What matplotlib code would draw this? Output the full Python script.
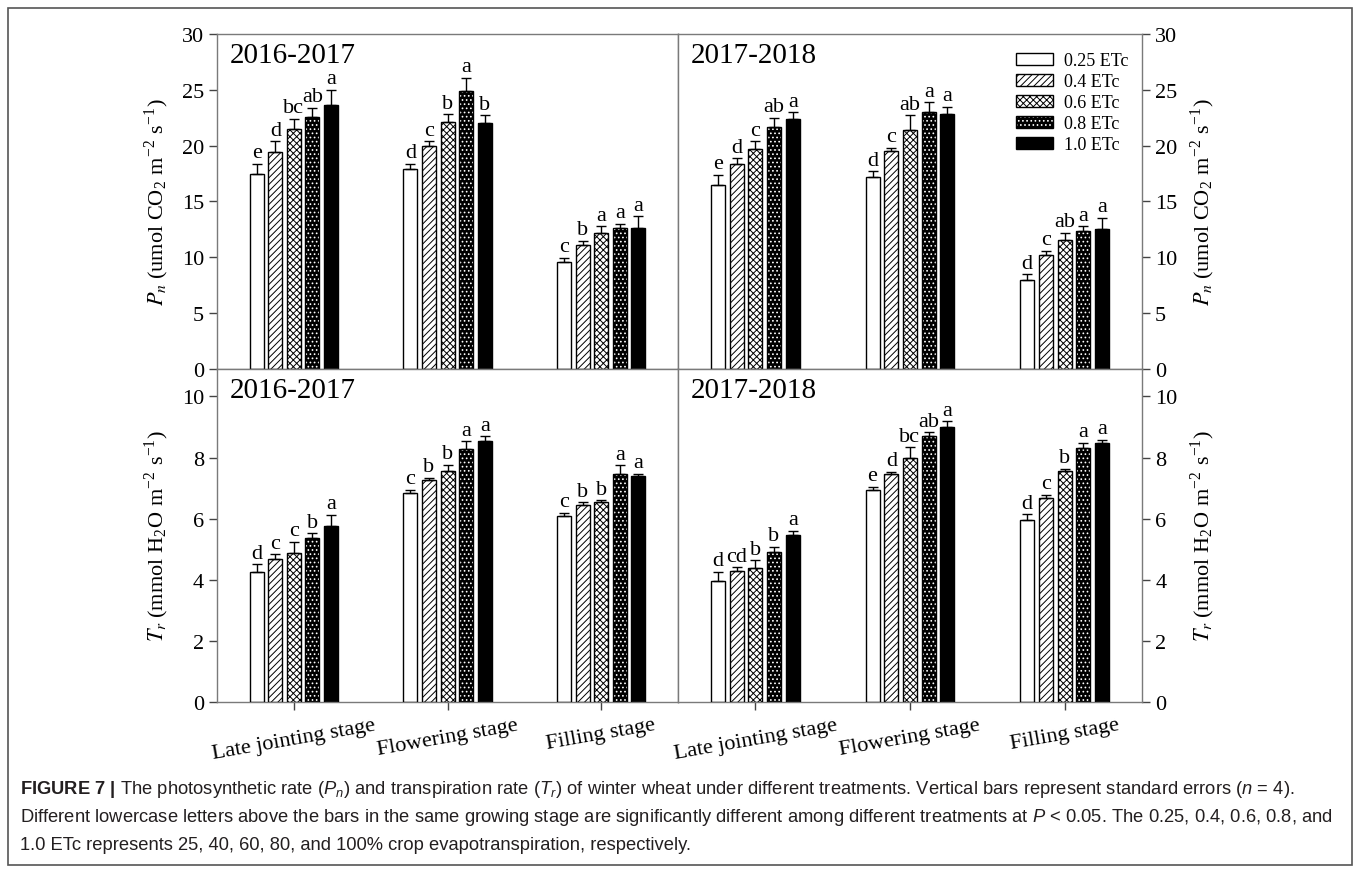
import numpy as np
import matplotlib
matplotlib.use('Agg')
import matplotlib.pyplot as plt
from matplotlib.patches import Patch, Rectangle

plt.rcParams['font.family'] = ['Liberation Serif', 'DejaVu Serif']
plt.rcParams['mathtext.fontset'] = 'custom'
plt.rcParams['mathtext.rm'] = 'Liberation Sans'
plt.rcParams['mathtext.it'] = 'Liberation Sans:italic'
plt.rcParams['mathtext.bf'] = 'Liberation Sans:bold'
plt.rcParams['hatch.linewidth'] = 0.7

# stages and treatments
stages = ['Late jointing stage', 'Flowering stage', 'Filling stage']
treatments = ['0.25 ETc', '0.4 ETc', '0.6 ETc', '0.8 ETc', '1.0 ETc']

# Pn, 2016-2017 (rows = stages, cols = treatments)
pn_1617 = [[17.5, 19.4, 21.5, 22.6, 23.6],
           [17.9, 20.0, 22.1, 24.9, 22.0],
           [9.55, 11.1, 12.2, 12.6, 12.6]]
pn_1617_se = [[0.9, 1.0, 0.9, 0.8, 1.4],
              [0.5, 0.4, 0.7, 1.2, 0.7],
              [0.42, 0.4, 0.6, 0.4, 1.1]]
pn_1617_sig = [['e', 'd', 'bc', 'ab', 'a'],
               ['d', 'c', 'b', 'a', 'b'],
               ['c', 'b', 'a', 'a', 'a']]

# Pn, 2017-2018
pn_1718 = [[16.5, 18.4, 19.7, 21.7, 22.4],
           [17.2, 19.5, 21.4, 23.0, 22.8],
           [8.0, 10.2, 11.55, 12.4, 12.5]]
pn_1718_se = [[0.9, 0.5, 0.7, 0.8, 0.6],
              [0.5, 0.3, 1.3, 0.9, 0.7],
              [0.5, 0.4, 0.65, 0.4, 1.05]]
pn_1718_sig = [['e', 'd', 'c', 'ab', 'a'],
               ['d', 'c', 'ab', 'a', 'a'],
               ['d', 'c', 'ab', 'a', 'a']]

# Tr, 2016-2017
tr_1617 = [[4.25, 4.69, 4.88, 5.36, 5.76],
           [6.85, 7.28, 7.55, 8.28, 8.53],
           [6.07, 6.46, 6.55, 7.47, 7.38]]
tr_1617_se = [[0.25, 0.15, 0.36, 0.16, 0.37],
              [0.1, 0.06, 0.22, 0.25, 0.16],
              [0.12, 0.07, 0.06, 0.27, 0.09]]
tr_1617_sig = [['d', 'c', 'c', 'b', 'a'],
               ['c', 'b', 'b', 'a', 'a'],
               ['c', 'b', 'b', 'a', 'a']]

# Tr, 2017-2018
tr_1718 = [[3.96, 4.27, 4.39, 4.9, 5.45],
           [6.94, 7.47, 7.98, 8.7, 9.01],
           [5.97, 6.68, 7.57, 8.32, 8.49]]
tr_1718_se = [[0.3, 0.15, 0.24, 0.18, 0.15],
              [0.11, 0.07, 0.35, 0.13, 0.18],
              [0.18, 0.1, 0.06, 0.17, 0.1]]
tr_1718_sig = [['d', 'cd', 'b', 'b', 'a'],
               ['e', 'd', 'bc', 'ab', 'a'],
               ['d', 'c', 'b', 'a', 'a']]

# bar fill styles per treatment: (face, hatch, hatch colour)
styles = [('white', None, 'black'),
          ('white', '/////', 'black'),
          ('white', 'xxxxx', 'black'),
          ('black', '....', 'white'),
          ('black', None, 'black')]

spine_col = '#7a7a7a'
width = 0.091
step = 0.121
x = np.arange(len(stages))


def draw_bars(ax, means, se, sig):
    means = np.array(means)
    se = np.array(se)
    for j, (face, hatch, hcol) in enumerate(styles):
        pos = x + (j - 2) * step
        vals = means[:, j]
        # hatch colour follows edgecolor, so fill and outline are separate bars
        ax.bar(pos, vals, width, color=face, edgecolor=hcol, hatch=hatch,
               linewidth=0, zorder=2)
        ax.bar(pos, vals, width, fill=False, edgecolor='black', linewidth=1.0, zorder=3)
        ax.errorbar(pos, vals, yerr=[np.zeros(3), se[:, j]], fmt='none',
                    ecolor='black', elinewidth=1.0, capsize=3.5, capthick=1.0, zorder=4)
        for k in range(3):
            ax.annotate(sig[k][j], (pos[k], vals[k] + se[k, j]), xytext=(0, 1),
                        textcoords='offset points', ha='center', va='bottom',
                        fontsize=16, zorder=5)


def style_axis(ax, side):
    ax.set_xlim(-0.5, 2.5)
    ax.set_xticks(x)
    for s in ax.spines.values():
        s.set_color(spine_col)
        s.set_linewidth(1.0)
    ax.tick_params(axis='both', direction='out', length=6, width=1.0,
                   color='#444444', labelsize=16)
    if side == 'right':
        ax.yaxis.tick_right()
        ax.yaxis.set_label_position('right')
    else:
        ax.yaxis.tick_left()


fig = plt.figure(figsize=(13.6, 8.7), dpi=100)

pn_label = r'$\mathregular{\mathit{P}_{\mathit{n}}}$ (umol CO$_\mathregular{2}$ m$^\mathregular{-2}$ s$^\mathregular{-1}$)'
tr_label = r'$\mathregular{\mathit{T}_{\mathit{r}}}$ (mmol H$_\mathregular{2}$O m$^\mathregular{-2}$ s$^\mathregular{-1}$)'

panels = [
    ([0.1596, 0.5747, 0.3390, 0.3851], pn_1617, pn_1617_se, pn_1617_sig, '2016-2017', 'left', 'pn'),
    ([0.4985, 0.5747, 0.3412, 0.3851], pn_1718, pn_1718_se, pn_1718_sig, '2017-2018', 'right', 'pn'),
    ([0.1596, 0.1920, 0.3390, 0.3828], tr_1617, tr_1617_se, tr_1617_sig, '2016-2017', 'left', 'tr'),
    ([0.4985, 0.1920, 0.3412, 0.3828], tr_1718, tr_1718_se, tr_1718_sig, '2017-2018', 'right', 'tr'),
]

legend_ax = None
for rect, m, e, sg, year, side, var in panels:
    ax = fig.add_axes(rect)
    draw_bars(ax, m, e, sg)
    style_axis(ax, side)
    if var == 'pn':
        ax.set_ylim(0, 30)
        ax.set_yticks(np.arange(0, 31, 5))
        ax.set_xticklabels([])
        ax.set_ylabel(pn_label, fontsize=16, labelpad=8)
    else:
        ax.set_ylim(0, 10.9)
        ax.set_yticks(np.arange(0, 11, 2))
        ax.set_xticklabels(stages, rotation=10, fontsize=16)
        ax.set_ylabel(tr_label, fontsize=16, labelpad=8)
    ax.yaxis.label.set_math_fontfamily('stix')
    ax.text(0.028, 0.975, year, transform=ax.transAxes, ha='left', va='top', fontsize=21)
    if var == 'pn' and side == 'right':
        legend_ax = ax

handles = [Patch(facecolor=f, edgecolor=h, hatch=ht, linewidth=0) for f, ht, h in styles]
leg = legend_ax.legend(handles, treatments, loc='upper right', bbox_to_anchor=(0.99, 0.972),
                       frameon=False, fontsize=13, handlelength=2.05, handleheight=0.7,
                       labelspacing=0.22, handletextpad=0.6, borderpad=0)

# black outline round each legend key
fig.canvas.draw()
renderer = fig.canvas.get_renderer()
inv = fig.transFigure.inverted()
for h in leg.legend_handles:
    bb = h.get_window_extent(renderer)
    (x0, y0), (x1, y1) = inv.transform([[bb.x0, bb.y0], [bb.x1, bb.y1]])
    fig.add_artist(Rectangle((x0, y0), x1 - x0, y1 - y0, fill=False,
                             edgecolor='black', linewidth=1.0,
                             transform=fig.transFigure))

# caption
cap_kw = dict(fontsize=13.2, color='#231f20', ha='left', va='center',
              family='Liberation Sans', math_fontfamily='custom')
fig.text(0.0147, 0.092,
         r'$\mathbf{FIGURE\ 7\ |}$ The photosynthetic rate ($P_n$) and transpiration rate ($T_r$) '
         r'of winter wheat under different treatments. Vertical bars represent standard errors ($n$ = 4).',
         **cap_kw)
fig.text(0.0147, 0.060,
         r'Different lowercase letters above the bars in the same growing stage are significantly '
         r'different among different treatments at $P$ < 0.05. The 0.25, 0.4, 0.6, 0.8, and',
         **cap_kw)
fig.text(0.0147, 0.028,
         '1.0 ETc represents 25, 40, 60, 80, and 100% crop evapotranspiration, respectively.',
         **cap_kw)

# outer frame
fig.add_artist(Rectangle((0.0059, 0.0046), 0.9883, 0.985, fill=False,
                         edgecolor='#555555', linewidth=1.2, transform=fig.transFigure))

fig.savefig('out.png', dpi=100)
